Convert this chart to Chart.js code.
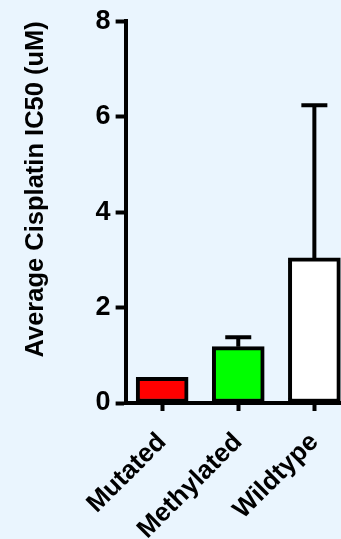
<!DOCTYPE html>
<html>
<head>
<meta charset="utf-8">
<script src="https://cdn.jsdelivr.net/npm/chart.js@4"></script>
<style>
  html, body { margin: 0; padding: 0; background: #eaf5fe; }
  #wrap { width: 341px; height: 539px; }
</style>
</head>
<body>
<div id="wrap"><canvas id="ic50Chart" width="341" height="539"></canvas></div>
<script>
// Data
const groups = ['Mutated', 'Methylated', 'Wildtype'];
const meanIC50 = [0.54, 1.18, 3.04];
const errPlus = [0, 0.2, 3.2];
const barColors = ['#ff0000', '#00ff00', '#ffffff'];
const yTicks = [0, 2, 4, 6, 8];

const FONT = '"Liberation Sans", Arial, sans-serif';

// one-sided error bars, drawn through the y scale
const errorBars = {
    id: 'errorBars',
    afterDatasetsDraw(chart) {
        const meta = chart.getDatasetMeta(0);
        const y = chart.scales.y;
        const c = chart.ctx;
        c.save();
        c.strokeStyle = '#000';
        c.lineWidth = 4;
        meta.data.forEach((bar, i) => {
            if (!errPlus[i]) return;
            const top = y.getPixelForValue(meanIC50[i]);
            const end = y.getPixelForValue(meanIC50[i] + errPlus[i]);
            c.beginPath();
            c.moveTo(bar.x, top);
            c.lineTo(bar.x, end);
            c.moveTo(bar.x - 13, end);
            c.lineTo(bar.x + 13, end);
            c.stroke();
        });
        c.restore();
    }
};

const bg = {
    id: 'bg',
    beforeDraw(chart) {
        const c = chart.ctx;
        c.save();
        c.fillStyle = '#eaf5fe';
        c.fillRect(0, 0, chart.width, chart.height);
        c.restore();
    }
};

const ctx = document.getElementById('ic50Chart').getContext('2d');

new Chart(ctx, {
    type: 'bar',
    data: {
        datasets: [{
            data: meanIC50.map((v, i) => ({ x: i, y: v })),
            backgroundColor: barColors,
            borderColor: '#000',
            borderWidth: 4,
            borderSkipped: false,
            barThickness: 52
        }]
    },
    options: {
        responsive: false,
        animation: false,
        layout: { padding: { top: 10, right: 0, bottom: 0, left: 0 } },
        plugins: {
            legend: { display: false },
            tooltip: { enabled: false }
        },
        scales: {
            x: {
                type: 'linear',
                offset: false,
                min: -0.48,
                max: 2.35,
                afterBuildTicks(scale) {
                    scale.ticks = groups.map((g, i) => ({ value: i }));
                },
                afterFit(scale) {
                    scale.height = 136;
                    scale.paddingRight = 0;
                },
                grid: {
                    offset: false,
                    drawOnChartArea: false,
                    tickLength: 8,
                    tickWidth: 4,
                    tickColor: '#000'
                },
                border: { color: '#000', width: 4 },
                ticks: {
                    color: '#000',
                    font: { family: FONT, size: 26, weight: 'bold' },
                    minRotation: 45,
                    maxRotation: 45,
                    padding: 16,
                    callback: (v) => groups[v]
                }
            },
            y: {
                min: 0,
                max: 8,
                afterBuildTicks(scale) {
                    scale.ticks = yTicks.map(v => ({ value: v }));
                },
                grid: {
                    drawOnChartArea: false,
                    tickLength: 10,
                    tickWidth: 4,
                    tickColor: '#000'
                },
                border: { color: '#000', width: 4 },
                ticks: {
                    color: '#000',
                    font: { family: FONT, size: 27, weight: 'bold' },
                    padding: 5
                },
                title: {
                    display: true,
                    text: 'Average Cisplatin IC50 (uM)',
                    color: '#000',
                    align: 'end',
                    font: { family: FONT, size: 25.5, weight: 'bold' },
                    padding: { top: 21, bottom: 39 }
                }
            }
        }
    },
    plugins: [bg, errorBars]
});
</script>
</body>
</html>
